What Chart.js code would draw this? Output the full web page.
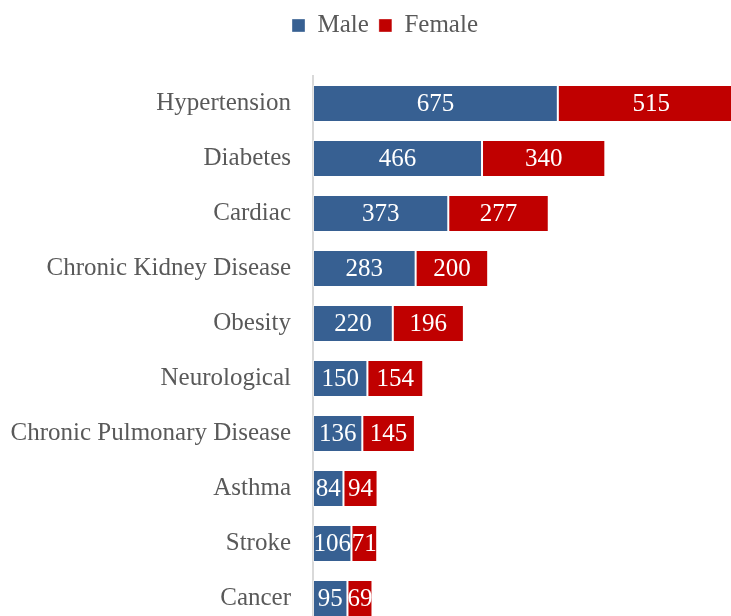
<!DOCTYPE html>
<html>
<head>
<meta charset="utf-8">
<script src="https://cdn.jsdelivr.net/npm/chart.js@4.4.1/dist/chart.umd.min.js"></script>
<style>
  html, body { margin: 0; padding: 0; overflow: hidden; background: #fff; }
  canvas { position: absolute; left: 0; top: 0; }
</style>
</head>
<body>
<canvas id="barChart" width="778" height="663"></canvas>
<script>
// Conditions by sex
const categories = ['Hypertension', 'Diabetes', 'Cardiac', 'Chronic Kidney Disease', 'Obesity',
  'Neurological', 'Chronic Pulmonary Disease', 'Asthma', 'Stroke', 'Cancer'];
const male = [675, 466, 373, 283, 220, 150, 136, 84, 106, 95];
const female = [515, 340, 277, 200, 196, 154, 145, 94, 71, 69];

const FONT = 'Liberation Serif';

// gap under the legend
const legendMargin = {
  id: 'legendMargin',
  beforeInit(chart) {
    const fit = chart.legend.fit;
    chart.legend.fit = function () {
      fit.bind(chart.legend)();
      this.height += 28;
    };
  }
};

// value labels in the middle of each segment
const barLabels = {
  id: 'barLabels',
  afterDatasetsDraw(chart) {
    const ctx = chart.ctx;
    ctx.save();
    ctx.fillStyle = '#ffffff';
    ctx.font = '25px "' + FONT + '"';
    ctx.textAlign = 'center';
    ctx.textBaseline = 'middle';
    chart.data.datasets.forEach((ds, i) => {
      chart.getDatasetMeta(i).data.forEach((bar, j) => {
        ctx.fillText(ds.data[j], (bar.x + bar.base) / 2, bar.y + 1);
      });
    });
    ctx.restore();
  }
};

const ctx = document.getElementById('barChart').getContext('2d');
new Chart(ctx, {
  type: 'bar',
  data: {
    labels: categories,
    datasets: [
      {
        label: 'Male',
        data: male,
        backgroundColor: '#376092',
        borderColor: 'rgba(255,255,255,0.35)',
        borderWidth: 1,
        borderSkipped: false
      },
      {
        label: 'Female',
        data: female,
        backgroundColor: '#C00000',
        borderColor: 'rgba(255,255,255,0.35)',
        borderWidth: 1,
        borderSkipped: false
      }
    ]
  },
  options: {
    indexAxis: 'y',
    responsive: false,
    animation: false,
    categoryPercentage: 0.67,
    barPercentage: 1,
    layout: { padding: { top: 3, right: 8, bottom: 4, left: 0 } },
    plugins: {
      legend: {
        position: 'top',
        labels: {
          boxWidth: 13,
          boxHeight: 13,
          color: '#595959',
          font: { family: FONT, size: 25 }
        }
      },
      tooltip: { enabled: false }
    },
    scales: {
      x: {
        stacked: true,
        min: 0,
        max: 1260,
        display: false
      },
      y: {
        stacked: true,
        grid: { display: false, drawTicks: false },
        border: { display: true, color: '#d9d9d9', width: 2 },
        ticks: {
          color: '#595959',
          padding: 22,
          font: { family: FONT, size: 25 }
        },
        afterFit(scale) { scale.width = 313; }
      }
    }
  },
  plugins: [legendMargin, barLabels]
});
</script>
</body>
</html>
